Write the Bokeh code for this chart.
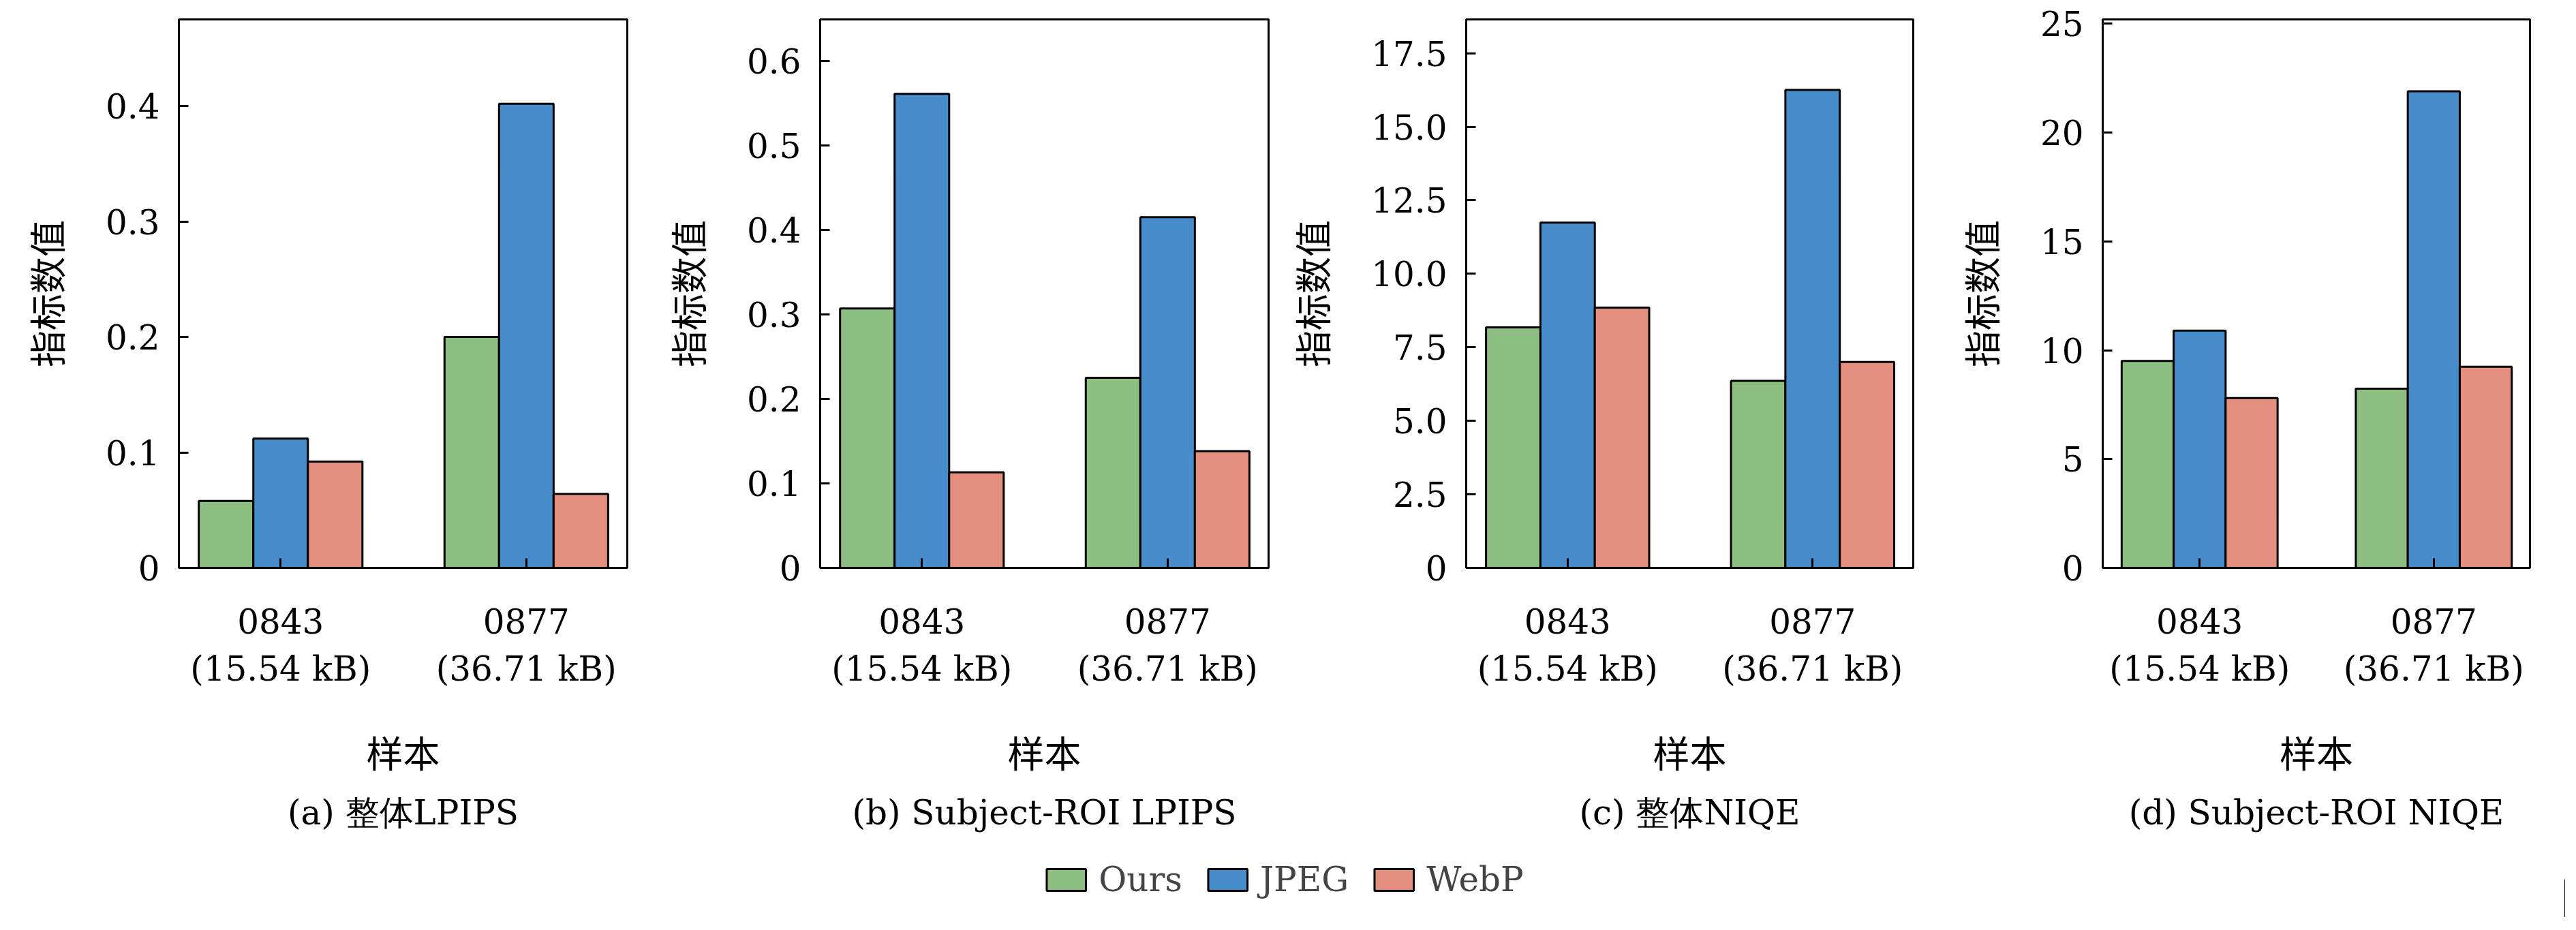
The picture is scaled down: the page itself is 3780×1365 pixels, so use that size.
from bokeh.plotting import figure
from bokeh.layouts import column, row
from bokeh.models import ColumnDataSource, FixedTicker, Range1d, Legend, LegendItem
from bokeh.embed import file_html
from bokeh.resources import INLINE
from bokeh.transform import dodge

samples = ["0843", "0877"]
sample_labels = ["0843\n(15.54 kB)", "0877\n(36.71 kB)"]
methods = ["Ours", "JPEG", "WebP"]
colors = ["#8dbf80", "#478dcc", "#e5907f"]

lpips_all = {"Ours": [0.058, 0.200], "JPEG": [0.112, 0.402], "WebP": [0.092, 0.064]}
lpips_roi = {"Ours": [0.307, 0.225], "JPEG": [0.561, 0.415], "WebP": [0.113, 0.138]}
niqe_all = {"Ours": [8.18, 6.36], "JPEG": [11.74, 16.25], "WebP": [8.85, 7.00]}
niqe_roi = {"Ours": [9.51, 8.23], "JPEG": [10.90, 21.90], "WebP": [7.80, 9.24]}

panels = [
    (lpips_all, 0.475, [0, 0.1, 0.2, 0.3, 0.4], ["0", "0.1", "0.2", "0.3", "0.4"], "(a) 整体LPIPS", 262, 658),
    (lpips_roi, 0.649, [0, 0.1, 0.2, 0.3, 0.4, 0.5, 0.6], ["0", "0.1", "0.2", "0.3", "0.4", "0.5", "0.6"], "(b) Subject-ROI LPIPS", 262, 658),
    (niqe_all, 18.65, [0, 2.5, 5, 7.5, 10, 12.5, 15, 17.5], ["0", "2.5", "5.0", "7.5", "10.0", "12.5", "15.0", "17.5"], "(c) 整体NIQE", 262, 656),
    (niqe_roi, 25.2, [0, 5, 10, 15, 20, 25], ["0", "5", "10", "15", "20", "25"], "(d) Subject-ROI NIQE", 255, 627),
]

SERIF = "DejaVu Serif"
CJK = "Noto Sans CJK SC"
W = 941
figs = []
for data, ymax, ticks, tlabels, caption, left, fw in panels:
    p = figure(output_backend="svg", toolbar_location=None, frame_width=fw, frame_height=805,
               x_range=Range1d(-0.414, 1.411), y_range=Range1d(0, ymax),
               min_border_left=left, min_border_right=W - left - fw, min_border_top=28,
               min_border_bottom=20, title=caption, title_location="below")
    src = ColumnDataSource(dict(x=[0, 1], **data))
    bw = 0.222
    for i, m in enumerate(methods):
        p.vbar(x=dodge("x", (i - 1) * bw, range=p.x_range), top=m, width=bw, source=src,
               fill_color=colors[i], line_color="black", line_width=3)
    p.xgrid.visible = False
    p.ygrid.visible = False
    p.outline_line_color = "black"
    p.outline_line_width = 3
    p.background_fill_color = "white"
    p.border_fill_color = "white"
    p.yaxis.ticker = FixedTicker(ticks=ticks)
    p.yaxis.major_label_overrides = {t: l for t, l in zip(ticks, tlabels)}
    p.xaxis.ticker = FixedTicker(ticks=[0, 1])
    p.xaxis.major_label_overrides = {0: sample_labels[0], 1: sample_labels[1]}
    p.axis.major_label_text_font = SERIF
    p.axis.major_label_text_font_size = "50px"
    p.axis.major_label_text_color = "black"
    p.axis.major_tick_in = 14
    p.axis.major_tick_out = 0
    p.axis.minor_tick_line_color = None
    p.axis.axis_line_width = 3
    p.axis.major_tick_line_width = 3
    p.axis.axis_label_text_font = CJK
    p.axis.axis_label_text_font_size = "54px"
    p.axis.axis_label_text_font_style = "normal"
    p.axis.axis_label_text_color = "black"
    p.xaxis.major_label_standoff = 50
    p.xaxis.axis_label = "样本"
    p.xaxis.axis_label_standoff = 50
    p.yaxis.axis_label = "指标数值"
    p.yaxis.major_label_standoff = 28
    p.yaxis.axis_label_standoff = 45
    p.title.text_font = SERIF
    p.title.text_font_size = "50px"
    p.title.text_font_style = "normal"
    p.title.text_color = "black"
    p.title.align = "center"
    p.title.offset = 0
    p.title.standoff = 30
    figs.append(p)

lg = figure(output_backend="svg", toolbar_location=None, width=4 * W, height=110,
            x_range=Range1d(0, 1), y_range=Range1d(0, 1), min_border=0)
lg.axis.visible = False
lg.grid.visible = False
lg.outline_line_color = None
items = []
for i, m in enumerate(methods):
    r = lg.vbar(x=[5], top=[0.5], width=0.1, fill_color=colors[i], line_color="black", line_width=3)
    items.append(LegendItem(label=m, renderers=[r]))
leg = Legend(items=items, orientation="horizontal", location="center",
             label_text_font=SERIF, label_text_font_size="50px",
             glyph_width=72, glyph_height=40, border_line_color=None,
             background_fill_alpha=0, spacing=30, label_standoff=12)
lg.add_layout(leg, "center")

layout = column(row(*figs, spacing=0), lg, spacing=0)
open("out.html", "w").write(file_html(layout, INLINE))
